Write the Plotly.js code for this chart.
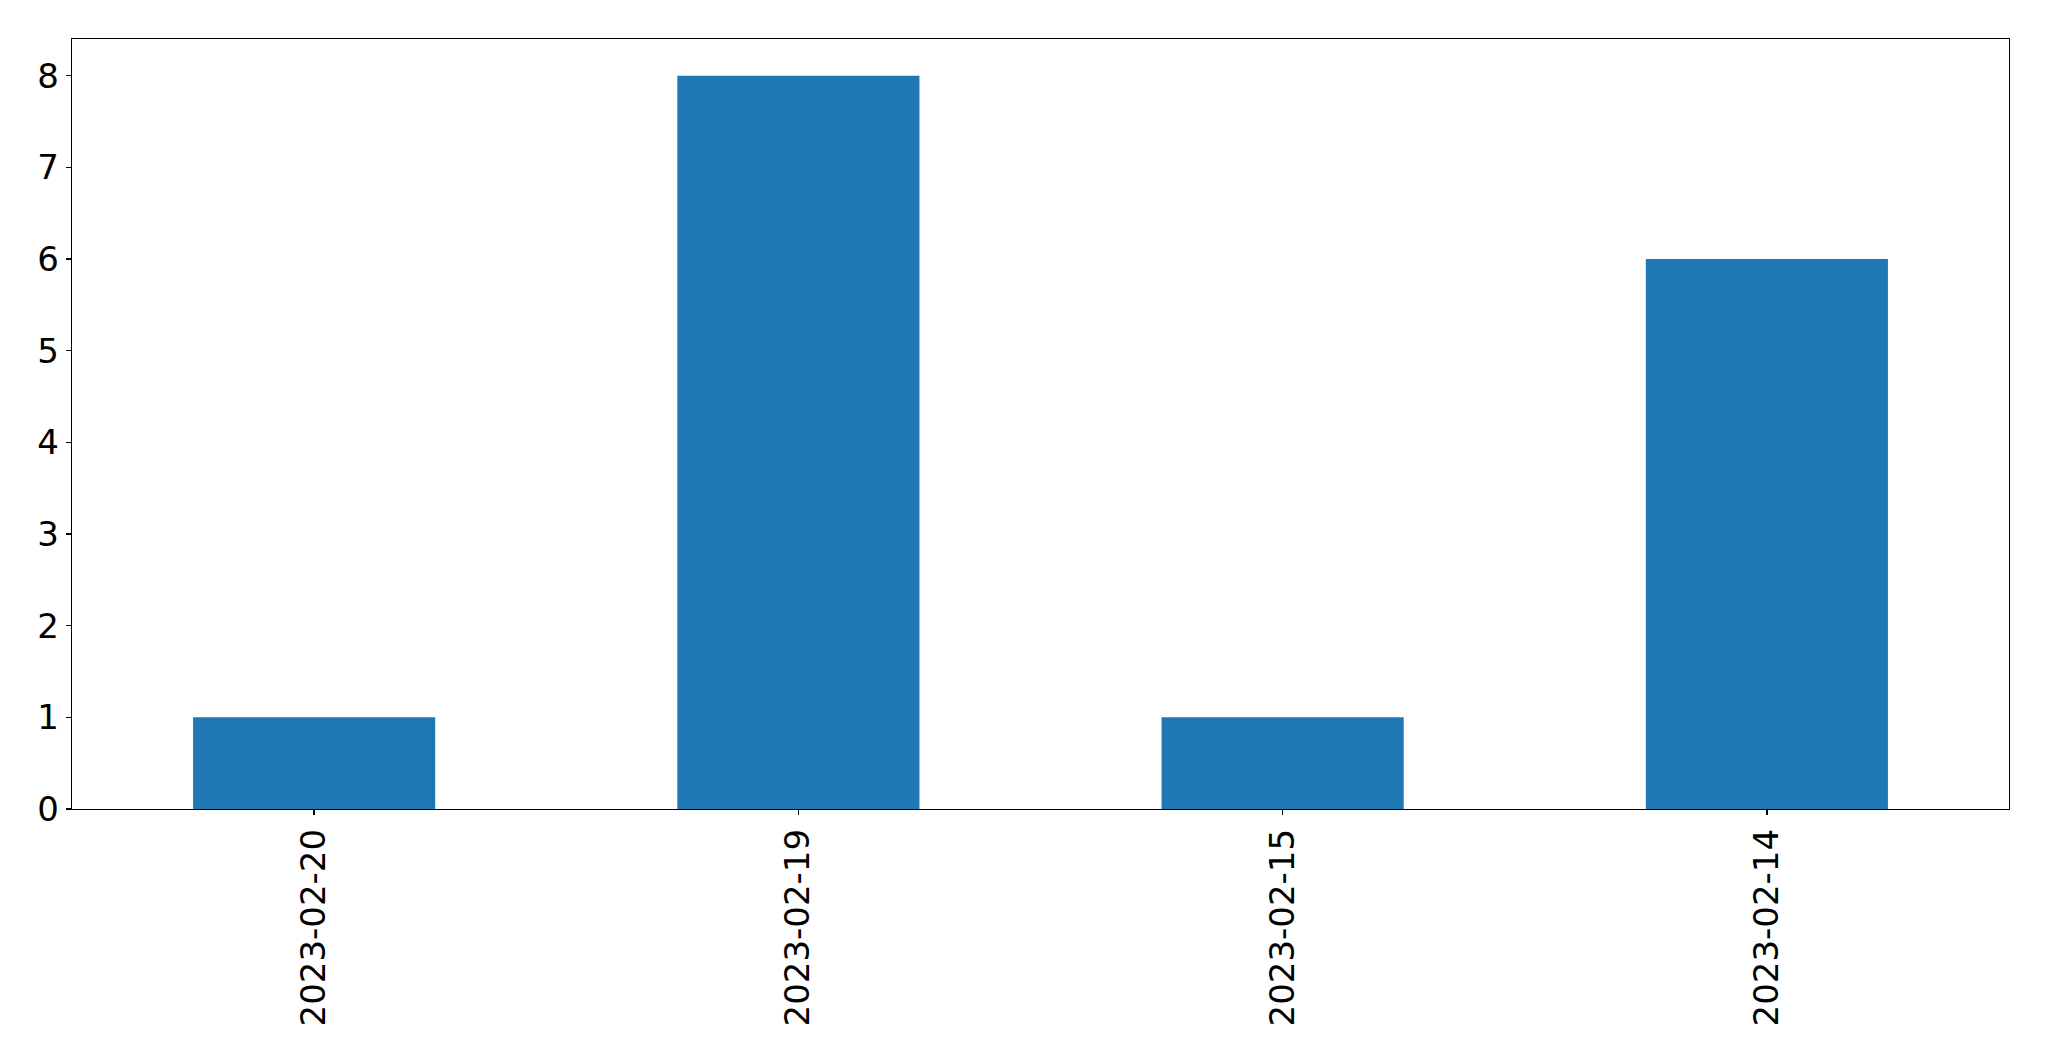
<!DOCTYPE html>
<html>
<head>
<meta charset="utf-8">
<script src="https://cdn.plot.ly/plotly-3.0.1.min.js"></script>
<style>html,body{margin:0;padding:0;background:#fff;}#chart{width:2049px;height:1061px;}</style>
</head>
<body>
<div id="chart"></div>
<script>
const categories = ["2023-02-20", "2023-02-19", "2023-02-15", "2023-02-14"];
const counts = [1, 8, 1, 6];
const yTicks = [0, 1, 2, 3, 4, 5, 6, 7, 8];

const trace = {
  type: "bar",
  x: categories,
  y: counts,
  width: 0.5,
  marker: {color: "#1f77b4", line: {width: 0}},
  hoverinfo: "x+y"
};

const axisFont = {family: "DejaVu Sans, sans-serif", size: 34, color: "#000"};

const layout = {
  width: 2049,
  height: 1061,
  margin: {l: 72, r: 40, t: 39, b: 252, pad: 0},
  paper_bgcolor: "#fff",
  plot_bgcolor: "#fff",
  showlegend: false,
  bargap: 0.5,
  xaxis: {
    type: "category",
    range: [-0.5, 3.5],
    tickangle: -90,
    ticks: "outside",
    ticklen: 5,
    tickwidth: 1.3,
    tickcolor: "#000",
    tickfont: axisFont,
    showline: true,
    linecolor: "#000",
    linewidth: 1.3,
    mirror: true,
    showgrid: false,
    zeroline: false,
    fixedrange: true
  },
  yaxis: {
    range: [0, 8.4],
    tickvals: yTicks,
    ticktext: yTicks.map(String),
    ticks: "outside",
    ticklen: 5,
    tickwidth: 1.3,
    tickcolor: "#000",
    tickfont: axisFont,
    showline: true,
    linecolor: "#000",
    linewidth: 1.3,
    mirror: true,
    showgrid: false,
    zeroline: false,
    fixedrange: true
  }
};

Plotly.newPlot("chart", [trace], layout, {displayModeBar: false, staticPlot: true});
</script>
</body>
</html>
